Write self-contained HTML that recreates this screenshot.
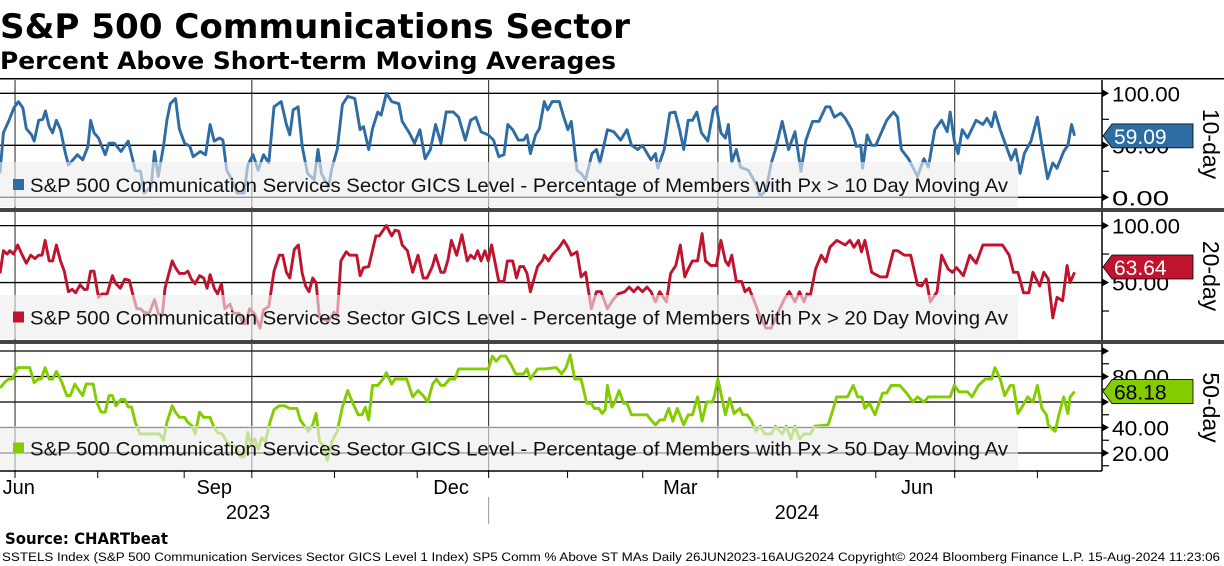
<!DOCTYPE html>
<html><head><meta charset="utf-8">
<style>
html,body{margin:0;padding:0;background:#fff;}
body{width:1224px;height:566px;overflow:hidden;position:relative;font-family:"Liberation Sans",sans-serif;}
svg{position:absolute;left:0;top:0;}
</style></head>
<body>
<svg id="chart" width="1224" height="566" viewBox="0 0 1224 566" xmlns="http://www.w3.org/2000/svg">
<text x="0" y="38" font-family="DejaVu Sans, sans-serif" font-weight="bold" font-size="34" fill="#000" textLength="630" lengthAdjust="spacingAndGlyphs">S&amp;P 500 Communications Sector</text>
<text x="0" y="69" font-family="DejaVu Sans, sans-serif" font-weight="bold" font-size="24" fill="#000" textLength="616" lengthAdjust="spacingAndGlyphs">Percent Above Short-term Moving Averages</text>
<g id="plots"></g>
<text x="5" y="544" font-family="DejaVu Sans, sans-serif" font-weight="bold" font-size="16" fill="#000" textLength="163" lengthAdjust="spacingAndGlyphs">Source: CHARTbeat</text>
<text x="2" y="561" font-family="Liberation Sans, sans-serif" font-size="11.5" fill="#000" textLength="1218" lengthAdjust="spacingAndGlyphs">SSTELS Index (S&amp;P 500 Communication Services Sector GICS Level 1 Index) SP5 Comm % Above ST MAs  Daily 26JUN2023-16AUG2024      Copyright© 2024 Bloomberg Finance L.P.     15-Aug-2024 11:23:06</text>
</svg>
<script>
// ---- data ----
const days10 = [0,0.9,2.3,3.7,4.9,6.1,7,8.4,9.1,10.3,11.4,12.1,13.1,14,15,16.1,17.3,18.2,20.6,22,23.4,24.1,25,26.2,28,29,30.4,32.2,34.1,36,37.4,38.3,40.2,41.1,42.1,43.5,44.4,45.3,46.7,47.7,49.1,50.5,51.4,53.3,54.7,55.9,57,58.4,59.3,60.3,61.7,63.1,65,65.9,67.3,68.7,70.1,71.5,72.9,74.8,76.2,77.1,78,79.3,80.4,81.8,83.6,84.6,85.5,87.4,88.3,89.7,91.1,92.5,94.4,95.8,96.7,98.1,99.1,100.5,101.4,102.8,104.2,106.1,107,108.9,110.3,111.7,113.1,114.5,115.9,117.3,118.7,120.6,122,123.8,125.2,126.6,128,129.9,131.3,132.7,134.1,135.1,136.4,137.9,139.3,140.2,141.1,142.5,143.5,144.8,145.7,146.9,148.8,150,151.1,152,153.5,154.6,155.8,157.5,158.7,159.6,161.6,163.3,165.1,166.8,168,169.7,170.9,173.2,174.4,175,176.7,178.2,179.6,180.8,181.9,183.1,184.2,185.4,186.6,188.3,189.8,190.6,191.8,193,193.8,194.7,195.9,197,199.1,201.1,202.3,203.8,205.2,206.3,208.1,209.8,211.5,213.1,214.4,216.2,217.9,219.7,220.8,222,223.7,224.9,226.6,227.8,229,229.5,230.7,231.9,233,234.8,235.9,237.7,238.8,239.8,241.7,244.1,245.8,247,248.7,250.5,252,252.8,253.9,254.9,256,257.4,259.7,261.5,262.6,263.8,264.7,266.1,267.9,269,270.2,271.4,272.5,274.3,276,277.2,278.7,280.1,281.2,283,284.1,285.1,285.9];
const vals10 = [23,62,73,86,92,86,66,60,54,74,75,83,68,62,74,65,44,31,41,36,49,74,62,57,41,52,52,44,54,26,25,4,10,44,20,49,74,90,95,66,52,49,39,44,41,70,54,57,55,26,17,4,4,31,41,26,41,33,87,92,70,60,84,87,49,23,17,46,23,10,28,46,89,97,95,65,68,46,66,82,79,100,92,90,73,62,52,65,37,46,70,52,82,82,77,55,74,77,63,60,55,39,41,70,65,55,55,60,42,60,66,92,84,92,92,77,65,73,26,23,17,42,46,33,65,63,55,65,50,46,50,36,42,28,46,81,82,65,46,74,74,82,62,54,84,87,62,57,70,34,46,29,26,13,1,7,33,46,73,46,63,25,55,73,73,87,87,77,81,76,65,49,50,28,60,50,50,65,74,82,77,46,37,20,37,29,65,74,63,82,54,42,65,57,74,70,76,68,82,65,47,36,46,23,42,54,77,50,18,33,28,44,50,70,59.09];

const days20 = [0,0.9,1.9,2.6,3.6,4.7,5.8,7,8.2,9.3,10.3,11.2,12,13.1,14,15,16.1,17.1,18.2,19.2,20.1,21.3,22.4,23.2,24.1,25,26.2,27.1,28.5,29.9,30.8,32,33.2,34.4,35.3,36.4,37.4,38.3,39.7,41.1,42.2,43.2,43.9,45.8,46.7,47.7,49.1,50,50.9,51.9,53.1,54.2,55.1,55.9,57,57.9,58.9,59.8,61.2,62.1,63.6,64.5,65.4,66.4,67.8,69.2,70.1,71.5,72.9,74.3,75.2,76.2,77.1,78.3,79.4,80.4,81.3,82.2,83.2,84.1,85,86.4,87.4,88.8,89.7,90.7,92.1,93,94.9,95.8,96.7,98.1,100,100.9,102.8,104.2,105.1,106.1,107,108.4,109.8,111.2,112.6,113.6,115,115.9,117.3,118.2,119.2,120.1,121.5,122.9,124.3,125.2,126.2,127.1,128,129,129.9,130.8,132.7,134.1,135,136.4,137.4,138.3,139.3,140.2,141.1,143,144.4,144.8,145.9,147.1,148.8,150,151.1,152,153.5,154.6,155.8,157.3,158.7,159.9,161.6,163.1,164.5,166.2,167.4,168.6,169.7,170.9,172.1,173.2,174.4,175.5,177.3,178.4,179.8,181,182.2,183.1,184.2,185.6,186.8,187.7,189.1,190.6,191.8,193,193.8,194.7,195.9,197.3,198.2,199.3,201.1,202.3,203.8,205.2,206.9,208.6,210,211.5,212.7,213.9,214.7,215.6,217,218.5,219.7,220.8,222.6,224.9,226.1,227.2,228.4,229.2,230.1,231.9,233,234.2,235.9,237.7,238.8,240.6,242.3,244.1,245.2,246.4,247.5,249.3,250.5,252.2,253.4,254.5,256.3,258,259.7,261.5,265,266.7,268.5,269.6,270.8,272.3,273.7,274.8,276.6,277.7,278.9,280.1,281.2,282.7,283.9,284.7,285.9];
const vals20 = [58,78,75,78,75,83,75,67,74,71,74,74,87,69,69,83,69,60,42,44,41,48,44,44,60,60,37,40,40,56,49,45,53,52,40,27,27,24,23,35,22,22,45,69,63,58,58,60,53,49,56,54,45,57,45,40,49,27,31,23,23,14,14,27,22,10,26,29,60,74,74,59,54,79,83,58,47,42,54,50,19,17,16,24,20,69,77,74,74,56,63,64,91,91,100,91,96,95,83,78,59,74,54,54,64,74,59,59,70,87,74,92,69,74,71,78,69,78,69,83,51,51,69,69,54,64,64,58,42,64,70,74,69,75,81,87,81,74,77,55,59,27,42,42,27,35,40,42,46,42,46,42,46,42,33,42,33,58,65,83,55,62,69,69,93,69,65,65,87,69,65,74,51,51,42,45,30,19,10,10,23,35,42,33,42,33,40,39,62,74,68,81,87,83,87,81,87,77,87,59,57,55,55,78,78,74,74,48,47,53,33,42,74,62,59,63,56,74,67,83,83,83,74,59,59,41,41,59,47,59,53,19,37,34,65,50,59,63.64];

const days50 = [0,1.4,2.3,3.3,4.7,6.1,7.9,9.1,10.1,11,12,13.1,14,15,16.4,17.8,18.7,19.9,21,22,22.9,24.8,25.7,26.9,28,29,29.9,30.8,32.2,33.2,34.1,35,36,37.2,39.7,42.5,43.5,44.4,45.8,46.7,47.7,49.1,50,51.2,51.9,53.1,54.2,55.9,56.8,57.9,59.1,60.3,61.2,62.6,64,65,65.9,66.8,67.8,68.7,69.6,70.6,71.8,72.9,74.3,75.7,77.1,79,79.9,80.8,82.1,83.2,84.1,85,86,87.1,88.3,89.7,91.1,92.5,93.9,95.3,96.3,97.2,98.1,99.1,100.5,101.9,102.8,104.2,105.1,108.2,109.8,111.2,112.6,113.8,115.1,116.1,117.3,118.2,119.6,121,122,129.9,131,132,133.2,134.6,136,137.2,139.3,140.2,141.1,143,144.9,148,149.4,150.6,151.7,152.9,154.6,156.1,157.3,158.1,159.3,160.2,161,161.6,162.8,163.6,164.7,165.9,166.8,168,172.1,173.2,174.4,175.5,176.7,177.9,179,180.2,181.9,183.1,184.2,185.6,186.8,188,189.5,190.1,191,191.8,193,194.1,195.3,196.8,197.6,198.8,199.9,201.1,202.3,203.4,205.2,206.3,208.1,209.2,210.4,211.5,212.7,213.9,215.6,216.8,220.3,221.2,222.6,225.5,227,228.2,229.3,230.1,231.3,232.8,234.8,235.9,237.1,239.4,241.2,242.9,244.1,245.8,247,252.8,253.9,255.1,257.4,258.6,260.3,262.1,263.8,264.7,266.1,267.3,268.8,269.6,270.8,271.9,273.4,274.8,276,277.2,278.4,278.9,280.7,281.8,283,284.1,284.7,285.9];
const vals50 = [71,76,78,78,87,87,87,75,78,78,87,78,78,84,76,65,65,74,69,65,74,74,60,52,52,65,65,57,62,62,56,56,44,35,35,35,30,44,57,52,48,48,44,41,35,52,48,48,41,36,35,29,26,25,17,17,36,26,31,23,32,29,44,54,57,57,55,55,46,42,37,42,51,29,26,14,29,37,56,69,59,50,50,56,46,73,73,78,83,74,78,78,64,69,65,60,74,78,73,73,78,78,86,86,96,92,96,96,89,82,82,86,78,86,86,87,82,87,97,78,78,59,59,55,55,51,54,73,56,60,69,59,59,50,50,46,42,46,46,55,45,55,42,50,50,64,45,60,60,65,78,67,50,63,51,55,50,50,45,37,41,35,35,41,35,41,31,41,31,35,35,41,42,50,64,64,73,64,64,55,59,50,67,67,73,73,67,60,64,60,64,64,73,68,68,64,73,78,78,87,78,65,73,73,51,56,64,60,73,55,50,42,37,51,64,51,64,68.18];

const monthTicks = ["2023-07","2023-08","2023-09","2023-10","2023-11","2023-12","2024-01","2024-02","2024-03","2024-04","2024-05","2024-06","2024-07","2024-08"];
const monthTickDays = [4,26,49,67,89,111,130,151,171,191,212,233,254,276];
const quarterDays = [4,67,130,191,254];
const monthLabels = ["Jun","Sep","Dec","Mar","Jun"];
const monthLabelDays = [5,57,120,181,244];
const yearLabels = ["2023","2024"];
const yearLabelDays = [66,212];
const yearSplitDay = 130;

// ---- layout ----
const NS = "http://www.w3.org/2000/svg";
const X0 = 0, PX_PER_DAY = 1075/286, AXIS_X = 1102;
const xs = d => X0 + d * PX_PER_DAY;
const g = document.getElementById('plots');
function el(tag, attrs, parent){ const e = document.createElementNS(NS, tag); for (const k in attrs) e.setAttribute(k, attrs[k]); (parent||g).appendChild(e); return e; }

const panels = [
  {key:'10-day', top:80, bottom:208, yAt100:93.3, yAt0:197.3, grid:[100,50,0], labels:[100,50,0], minor:[75,25], color:'#2e6ca4', days:days10, vals:vals10, n:10, tagText:'#fff', legendTop:162},
  {key:'20-day', top:212, bottom:340, yAt100:225.6, yAt0:339.5, grid:[100,50], labels:[100,50], minor:[75,25], color:'#c0142e', days:days20, vals:vals20, n:20, tagText:'#fff', legendTop:295},
  {key:'50-day', top:344, bottom:471, yAt100:351, yAt0:478.5, grid:[100,80,60,40,20], labels:[80,40,20], minor:[90,70,50,30,10], color:'#82cc00', days:days50, vals:vals50, n:50, tagText:'#000', legendTop:426}
];

panels.forEach((p) => {
  const ys = v => p.yAt0 - v * (p.yAt0 - p.yAt100) / 100;
  const pg = el('g', {});
  
  
  p.grid.forEach(v => {
    const l = el('line', {x1:0, x2:AXIS_X, y1:ys(v), y2:ys(v), stroke:'#000', 'stroke-width':1.3}, pg);
    
    
    el('path', {d:`M${AXIS_X} ${ys(v)-4} L${AXIS_X+7} ${ys(v)} L${AXIS_X} ${ys(v)+4}Z`, fill:'#000'}, pg);
  });
  p.minor.forEach(v => { el('line', {x1:AXIS_X, x2:AXIS_X+7, y1:ys(v), y2:ys(v), stroke:'#000', 'stroke-width':1.2}, pg); });
  quarterDays.forEach(d => { el('line', {x1:xs(d), x2:xs(d), y1:p.top, y2:p.bottom, stroke:'#222', 'stroke-width':1}, pg); });
  let dstr = '';
  p.days.forEach((d, i) => { dstr += (i ? 'L' : 'M') + xs(d).toFixed(1) + ' ' + ys(p.vals[i]).toFixed(1); });
  const line = el('path', {d:dstr, fill:'none', stroke:p.color, 'stroke-width':2.9, 'stroke-linejoin':'round'}, pg);
  
  
  const lb = el('rect', {x:0, y:p.legendTop, width:1018, height:p.bottom - p.legendTop - 1, fill:'#eeeeee', 'fill-opacity':0.62}, pg);
  
  
  const ly = p.legendTop + (p.bottom - p.legendTop) / 2;
  el('rect', {x:13, y:ly-6, width:11, height:11, fill:p.color}, pg);
  const lt = el('text', {x:30, y:ly+7, 'font-size':19.5, fill:'#111', 'font-family':'Liberation Sans, sans-serif', textLength:978, lengthAdjust:'spacingAndGlyphs'}, pg);
  lt.textContent = 'S&P 500 Communication Services Sector GICS Level - Percentage of Members with Px > ' + p.n + ' Day Moving Av';
  
  
  el('line', {x1:AXIS_X, x2:AXIS_X, y1:p.top, y2:p.bottom, stroke:'#000', 'stroke-width':1.5}, pg);
  p.labels.forEach(v => {
    const t = el('text', {x:1112, y:ys(v)+8, 'font-size':21, fill:'#000', 'font-family':'Liberation Sans, sans-serif', textLength:v===100?68:57, lengthAdjust:'spacingAndGlyphs'}, pg);
    t.textContent = v.toFixed(2);
    
    
  });
  const lv = p.vals[p.vals.length - 1], ty = ys(lv);
  const tag = el('path', {d:`M1103 ${ty} L1112 ${ty-12} L1193 ${ty-12} L1193 ${ty+12} L1112 ${ty+12}Z`, fill:p.color, stroke:'#000', 'stroke-width':0.8}, pg);
  
  
  const tt = el('text', {x:1114, y:ty+8, 'font-size':21, fill:p.tagText, 'font-family':'Liberation Sans, sans-serif'}, pg);
  tt.textContent = lv.toFixed(2);
  
  
  const cy = (p.top + p.bottom) / 2;
  const pt = el('text', {x:0, y:0, 'font-size':23, fill:'#000', 'font-family':'Liberation Sans, sans-serif', 'text-anchor':'middle', transform:`translate(1203 ${cy}) rotate(90)`}, pg);
  pt.textContent = p.key;
  
  
});

[80, 210, 342].forEach((y, i) => {
  const s = el('rect', {x:0, y:y-2, width:1224, height:i===0?1.5:4, fill:i===0?'#000':'#444'});
  
  
});
const xa = el('line', {x1:0, x2:AXIS_X, y1:471, y2:471, stroke:'#000', 'stroke-width':1.5});


monthTickDays.forEach(d => { el('line', {x1:xs(d), x2:xs(d), y1:471, y2:478, stroke:'#000', 'stroke-width':1}); });
monthLabels.forEach((m, i) => {
  const t = el('text', {x:xs(monthLabelDays[i]), y:494, 'font-size':20, 'text-anchor':'middle', fill:'#000', 'font-family':'Liberation Sans, sans-serif'});
  t.textContent = m;
  
  
});
yearLabels.forEach((y, i) => {
  const t = el('text', {x:xs(yearLabelDays[i]), y:519, 'font-size':20, 'text-anchor':'middle', fill:'#000', 'font-family':'Liberation Sans, sans-serif'});
  t.textContent = y;
  
  
});
el('line', {x1:xs(yearSplitDay), x2:xs(yearSplitDay), y1:497, y2:524, stroke:'#999', 'stroke-width':1});
</script>
</body></html>
